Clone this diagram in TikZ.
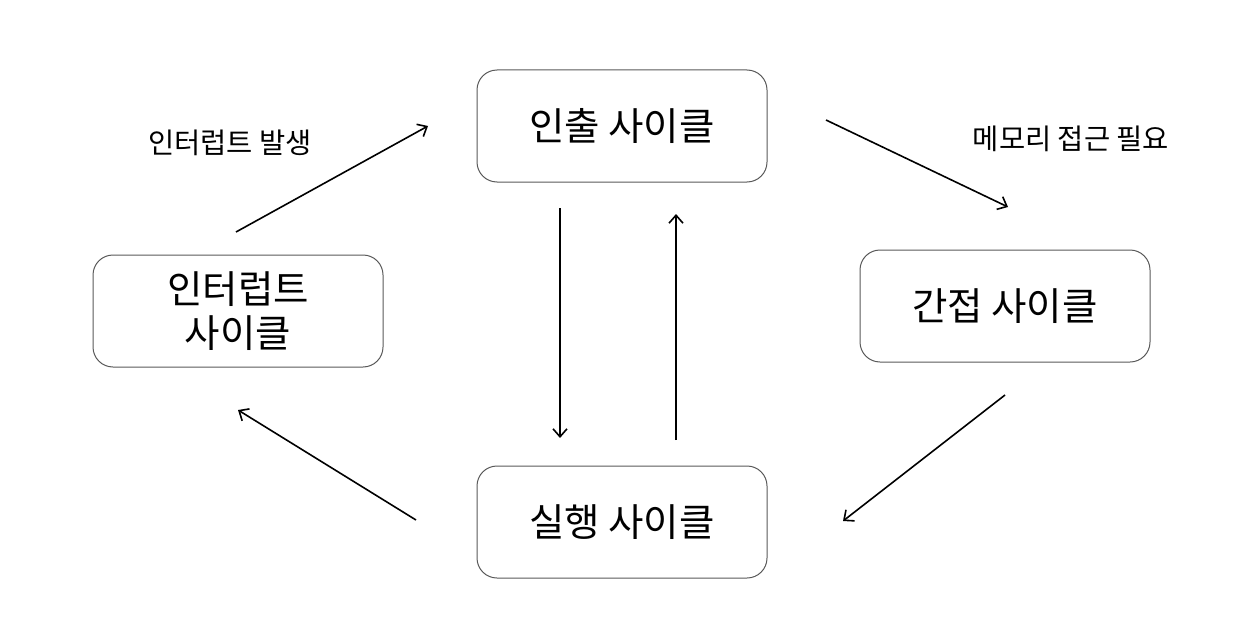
\documentclass[tikz,border=0pt]{standalone}
\usepackage{fontspec}
\setmainfont{Noto Sans CJK KR}
\usetikzlibrary{arrows.meta}
\tikzset{
  cyclebox/.style={draw=black!65, line width=1pt, rounded corners=20pt, minimum width=290pt, minimum height=112pt, align=center, font=\fontsize{38.5}{44}\selectfont, inner sep=0pt},
  flow/.style={-{Straight Barb[length=8pt,width=14pt,line width=1.6pt]}, line width=1.6pt},
  lbl/.style={font=\fontsize{28.5}{32}\selectfont, inner sep=0pt}
}
\begin{document}
\begin{tikzpicture}[x=1pt,y=-1pt]
\useasboundingbox (0,0) rectangle (1258,642);
\node[cyclebox] (fetch) at (622,126) {인출 사이클};
\node[cyclebox] (ind) at (1005,306) {간접 사이클};
\node[cyclebox] (exec) at (622,522) {실행 사이클};
\node[cyclebox] (intr) at (238,311) {인터럽트\\사이클};
\coordinate (a1s) at (826,120); \coordinate (a1e) at (1008,207);
\coordinate (a2s) at (1005,395); \coordinate (a2e) at (843,521);
\coordinate (a3s) at (416,520); \coordinate (a3e) at (238,410);
\coordinate (a4s) at (236,232); \coordinate (a4e) at (428,126);
\coordinate (d1s) at (560,208); \coordinate (d1e) at (560,438);
\coordinate (u1s) at (676,440); \coordinate (u1e) at (676,214);
\draw[flow] (a1s) -- (a1e);
\draw[flow] (a2s) -- (a2e);
\draw[flow] (a3s) -- (a3e);
\draw[flow] (a4s) -- (a4e);
\draw[flow] (d1s) -- (d1e);
\draw[flow] (u1s) -- (u1e);
\node[lbl] (l1) at (230,143) {인터럽트 발생};
\node[lbl] (l2) at (1071,139) {메모리 접근 필요};
\end{tikzpicture}
\end{document}
